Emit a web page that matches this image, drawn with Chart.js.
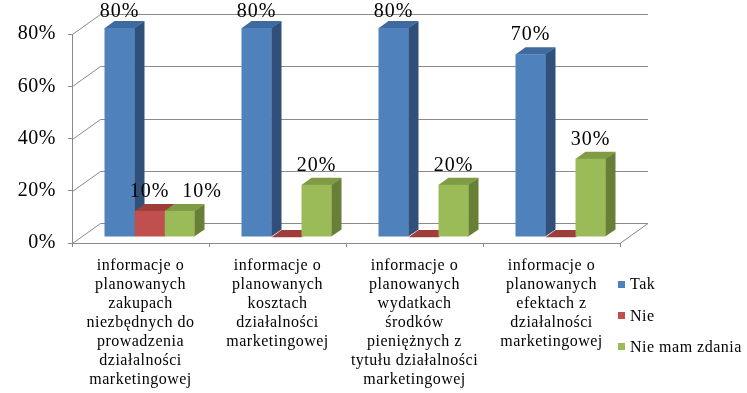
<!DOCTYPE html>
<html><head><meta charset="utf-8">
<script src="https://cdn.jsdelivr.net/npm/chart.js@4/dist/chart.umd.min.js"></script>
<style>html,body{margin:0;padding:0;background:#fff}#wrap{width:747px;height:393px;position:relative}canvas{display:block}</style>
</head><body><div id="wrap"><canvas id="c" width="747" height="393"></canvas></div>
<script>
// ---- data ----
const categories = [
  ["informacje o","planowanych","zakupach","niezbędnych do","prowadzenia","działalności","marketingowej"],
  ["informacje o","planowanych","kosztach","działalności","marketingowej"],
  ["informacje o","planowanych","wydatkach","środków","pieniężnych z","tytułu działalności","marketingowej"],
  ["informacje o","planowanych","efektach z","działalności","marketingowej"]
];
const seriesNames = ["Tak", "Nie", "Nie mam zdania"];
const takValues = [0.8, 0.8, 0.8, 0.7];
const nieValues = [0.1, 0, 0, 0];
const nieMamZdaniaValues = [0.1, 0.2, 0.2, 0.3];
const yMin = 0, yMax = 0.8, yStep = 0.2;

// ---- style ----
const SERIF = "'Liberation Serif', 'Times New Roman', serif";
const GRID = '#8a8a8a';
const FRONT = {dx: 9, dy: -6};
const DEPTH = {dx: 10, dy: -7};
const WALL = {dx: 28, dy: -20};
const faces = [
  {front: '#4F81BD', top: '#3E6AA0', side: '#30507A'},
  {front: '#C0504D', top: '#9E3E3B', side: '#843230'},
  {front: '#9BBB59', top: '#7F9B45', side: '#687F38'}
];
const pct = v => Math.round(v * 100) + '%';

const box3d = {
  id: 'box3d',
  beforeDraw(chart) { chart.ctx.letterSpacing = '0.5px'; },
  beforeDatasetsDraw(chart) {
    const ctx = chart.ctx, a = chart.chartArea, ys = chart.scales.y;
    ctx.save();
    ctx.strokeStyle = GRID; ctx.lineWidth = 1;
    ctx.beginPath();
    ys.ticks.forEach(t => {
      const py = Math.round(ys.getPixelForValue(t.value)) + 0.5;
      const lx = Math.round(a.left) + 0.5;
      ctx.moveTo(lx, py);
      ctx.lineTo(lx + WALL.dx, py + WALL.dy);
      ctx.lineTo(a.right + WALL.dx, py + WALL.dy);
    });
    const pb = Math.round(a.bottom) + 0.5;
    ctx.moveTo(a.right, pb);
    ctx.lineTo(a.right + WALL.dx, pb + WALL.dy);
    ctx.stroke();
    // side and top faces
    chart.data.datasets.forEach((ds, di) => {
      const meta = chart.getDatasetMeta(di);
      meta.data.forEach(el => {
        const p = el.getProps(['x', 'y', 'base', 'width'], true);
        const L = p.x - p.width / 2 + FRONT.dx, R = p.x + p.width / 2 + FRONT.dx;
        const T = Math.min(p.y, p.base) + FRONT.dy, B = Math.max(p.y, p.base) + FRONT.dy;
        ctx.fillStyle = faces[di].side;
        ctx.beginPath();
        ctx.moveTo(R - 0.3, T); ctx.lineTo(R + DEPTH.dx, T + DEPTH.dy);
        ctx.lineTo(R + DEPTH.dx, B + DEPTH.dy); ctx.lineTo(R - 0.3, B);
        ctx.closePath(); ctx.fill();
        ctx.fillStyle = faces[di].top;
        ctx.beginPath();
        ctx.moveTo(L, T + 0.3); ctx.lineTo(R, T + 0.3);
        ctx.lineTo(R + DEPTH.dx, T + DEPTH.dy); ctx.lineTo(L + DEPTH.dx, T + DEPTH.dy);
        ctx.closePath(); ctx.fill();
      });
    });
    ctx.restore();
    ctx.save();
    ctx.translate(FRONT.dx, FRONT.dy);
  },
  afterDatasetsDraw(chart) {
    const ctx = chart.ctx;
    ctx.restore();
    ctx.save();
    ctx.font = '20px ' + SERIF;
    ctx.letterSpacing = '1px';
    ctx.fillStyle = '#000';
    ctx.textAlign = 'center';
    ctx.textBaseline = 'alphabetic';
    chart.data.labels.forEach((lab, i) => {
      const placed = [];
      chart.data.datasets.forEach((ds, di) => {
        const v = ds.data[i];
        if (!v) return;
        const el = chart.getDatasetMeta(di).data[i];
        const txt = pct(v);
        const w = ctx.measureText(txt).width;
        let cx = el.x + FRONT.dx;
        const by = Math.max(17, el.y + FRONT.dy - 14);
        placed.forEach(pr => {
          if (Math.abs(pr.by - by) < 16 && cx - w / 2 < pr.right + 8) cx = pr.right + 13 + w / 2;
        });
        ctx.fillText(txt, cx, by);
        placed.push({by, right: cx + w / 2});
      });
    });
    ctx.restore();
  },
  afterDraw(chart) {
    const ctx = chart.ctx;
    ctx.save();
    ctx.font = '16px ' + SERIF;
    ctx.letterSpacing = '0.5px';
    ctx.textBaseline = 'middle';
    ctx.textAlign = 'left';
    const ys = [284, 315.5, 346.5];
    seriesNames.forEach((n, i) => {
      ctx.fillStyle = faces[i].front;
      ctx.fillRect(618, Math.round(ys[i] - 3.5), 7, 7);
      ctx.fillStyle = '#000';
      ctx.fillText(n, 630, ys[i] + 1);
    });
    ctx.restore();
  }
};

new Chart(document.getElementById('c'), {
  type: 'bar',
  data: {
    labels: categories,
    datasets: [
      {label: seriesNames[0], data: takValues, backgroundColor: faces[0].front},
      {label: seriesNames[1], data: nieValues, backgroundColor: faces[1].front},
      {label: seriesNames[2], data: nieMamZdaniaValues, backgroundColor: faces[2].front}
    ]
  },
  options: {
    responsive: false,
    animation: false,
    events: [],
    clip: false,
    layout: {padding: {top: 34, right: 127, left: 0, bottom: 0}},
    datasets: {bar: {categoryPercentage: 90 / 137, barPercentage: 1, borderWidth: 0}},
    plugins: {legend: {display: false}, tooltip: {enabled: false}},
    scales: {
      x: {
        grid: {display: true, drawOnChartArea: false, drawTicks: true, tickLength: 4, color: GRID, offset: true},
        border: {display: true, color: GRID, width: 1},
        ticks: {autoSkip: false, maxRotation: 0, minRotation: 0, padding: 9.5, color: '#000',
                font: {family: SERIF, size: 16, lineHeight: 1.1875}},
        afterFit: s => { s.height = 150; }
      },
      y: {
        min: yMin, max: yMax,
        grid: {display: true, drawOnChartArea: false, drawTicks: true, tickLength: 4, color: GRID},
        border: {display: true, color: GRID, width: 1},
        ticks: {stepSize: yStep, padding: 12, color: '#000', font: {family: SERIF, size: 20},
                callback: v => pct(v)},
        afterFit: s => { s.width = 72; }
      }
    }
  },
  plugins: [box3d]
});
</script>
</body></html>
